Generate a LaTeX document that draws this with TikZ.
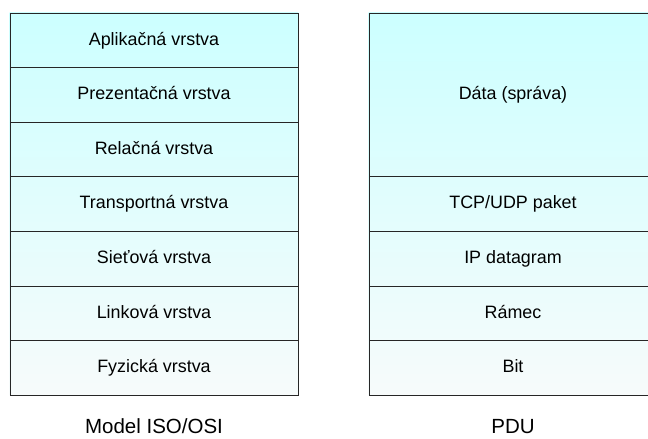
\documentclass[tikz,border=0pt]{standalone}
\usepackage{fontspec}
\setmainfont{Liberation Sans}
\usetikzlibrary{backgrounds}
\definecolor{vrchna}{RGB}{204,255,255}
\definecolor{spodna}{RGB}{247,251,251}
\tikzset{
  vrstva/.style={draw=black!85, line width=0.8pt, minimum width=288pt, minimum height=54.6pt, inner sep=0pt, text height=12.8pt, text depth=3.4pt, font=\fontsize{17.9}{20}\selectfont},
  nadpis/.style={text height=14pt, text depth=3.8pt, font=\fontsize{20.5}{22}\selectfont}
}
\begin{document}
\begin{tikzpicture}[x=1pt, y=-1pt]
\useasboundingbox (0,0) rectangle (648,439);
% model ISO/OSI
\node[vrstva] (apl) at (154,40.3) {Aplikačná vrstva};
\node[vrstva] (pre) at (154,94.9) {Prezentačná vrstva};
\node[vrstva] (rel) at (154,149.5) {Relačná vrstva};
\node[vrstva] (tra) at (154,204.1) {Transportná vrstva};
\node[vrstva] (sie) at (154,258.7) {Sieťová vrstva};
\node[vrstva] (lin) at (154,313.3) {Linková vrstva};
\node[vrstva] (fyz) at (154,367.9) {Fyzická vrstva};
% PDU
\node[vrstva, minimum height=163.8pt] (dat) at (513,94.9) {Dáta (správa)};
\node[vrstva] (seg) at (513,204.1) {TCP/UDP paket};
\node[vrstva] (dgr) at (513,258.7) {IP datagram};
\node[vrstva] (ram) at (513,313.3) {Rámec};
\node[vrstva] (bit) at (513,367.9) {Bit};
\begin{scope}[on background layer]
\shade[top color=vrchna, bottom color=spodna] (apl.north west) rectangle (fyz.south east);
\shade[top color=vrchna, bottom color=spodna] (dat.north west) rectangle (bit.south east);
\end{scope}
\node[nadpis] (model) at (154,428.5) {Model ISO/OSI};
\node[nadpis] (pdu) at (513,428.5) {PDU};
\end{tikzpicture}
\end{document}
